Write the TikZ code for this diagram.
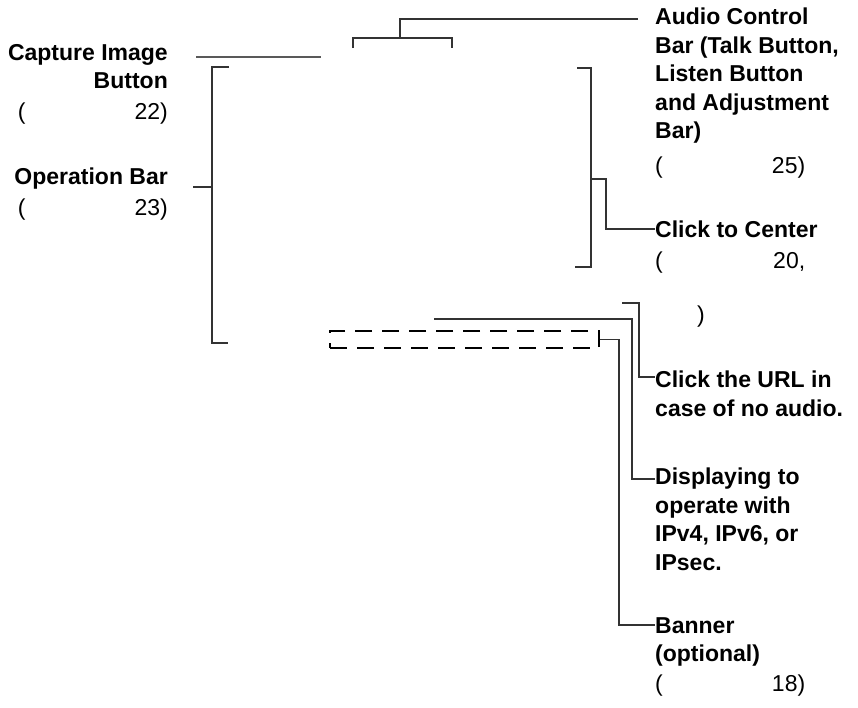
\documentclass[tikz,border=0pt]{standalone}
\usepackage{fontspec}
\setmainfont{Liberation Sans}
\usepackage{tikz}
\usetikzlibrary{calc,positioning}

% page reference line: "(" on the left, number on the right
\newcommand{\pref}[1]{\makebox[150pt][l]{(\hfill #1}}

\begin{document}
\begin{tikzpicture}[x=1pt, y=-1pt,
    lbl/.style={font=\fontsize{23}{28.5}\selectfont\bfseries, inner sep=0pt},
    conn/.style={line width=1.2pt, black!80},
    dashbox/.style={draw, line width=2pt, dash pattern=on 17pt off 10pt, inner sep=0pt}]
    \useasboundingbox (0,0) rectangle (858,707);

    % Labels
    \node (cap) [lbl, align=right, anchor=north east] at (168,44) {Capture Image\\Button\\[2pt]{\mdseries\pref{22)}}};
    \node (opbar) [lbl, align=right, anchor=north east] at (168,168) {Operation Bar\\[2pt]{\mdseries\pref{23)}}};
    \node (audio) [lbl, align=left, anchor=north west] at (655,8) {Audio Control\\Bar (Talk Button,\\Listen Button\\and Adjustment\\Bar)\\[6pt]{\mdseries\pref{25)}}};
    \node (center) [lbl, align=left, anchor=north west] at (655,221) {Click to Center\\[2pt]{\mdseries\pref{20,}}\\[26pt]{\mdseries\hspace*{42pt})}};
    \node (url) [lbl, align=left, anchor=north west] at (655,371) {Click the URL in\\case of no audio.};
    \node (ipver) [lbl, align=left, anchor=north west] at (655,468) {Displaying to\\operate with\\IPv4, IPv6, or\\IPsec.};
    \node (banner) [lbl, align=left, anchor=north west] at (655,617) {Banner\\(optional)\\[1pt]{\mdseries\pref{18)}}};

    % Banner area
    \node (bannerbox) [dashbox, minimum width=269pt, minimum height=17pt, anchor=north west] at (329,330) {};

    % Free ends of the callouts
    \coordinate (capend) at (321,57);
    \coordinate (opfork) at (212,187);
    \coordinate (audiofork) at (400,38);
    \coordinate (ctrtick) at (591,179);
    \coordinate (urltick) at (622,303);
    \coordinate (ipline) at (434,319);

    % Capture Image Button
    \draw[conn, black!65] ($(cap.north east)+(28,13)$) -- (capend);
    % Operation Bar
    \draw[conn] ($(opbar.north east)+(25,19)$) -- (opfork);
    \draw[conn] (229,67) -- (212,67) -- (212,343) -- (228,343);
    % Audio Control Bar
    \draw[conn] ($(audio.north west)+(-17,11)$) -| (audiofork);
    \draw[conn] (353,48) -- (353,38) -- (452,38) -- (452,48);
    % Click to Center
    \draw[conn] (577,68) -- (591,68) -- (591,267) -- (575,267);
    \draw[conn] (ctrtick) -- ++(15,0) |- ($(center.north west)+(0,8)$);
    % Click the URL
    \draw[conn] (urltick) -- ++(17,0) |- ($(url.north west)+(0,6)$);
    % IPv4 / IPv6 / IPsec
    \draw[conn] (ipline) -- ++(198,0) |- ($(ipver.north west)+(0,11)$);
    % Banner
    \draw[conn] (bannerbox.east) -- ++(19,0) |- ($(banner.north west)+(0,8)$);
\end{tikzpicture}
\end{document}
